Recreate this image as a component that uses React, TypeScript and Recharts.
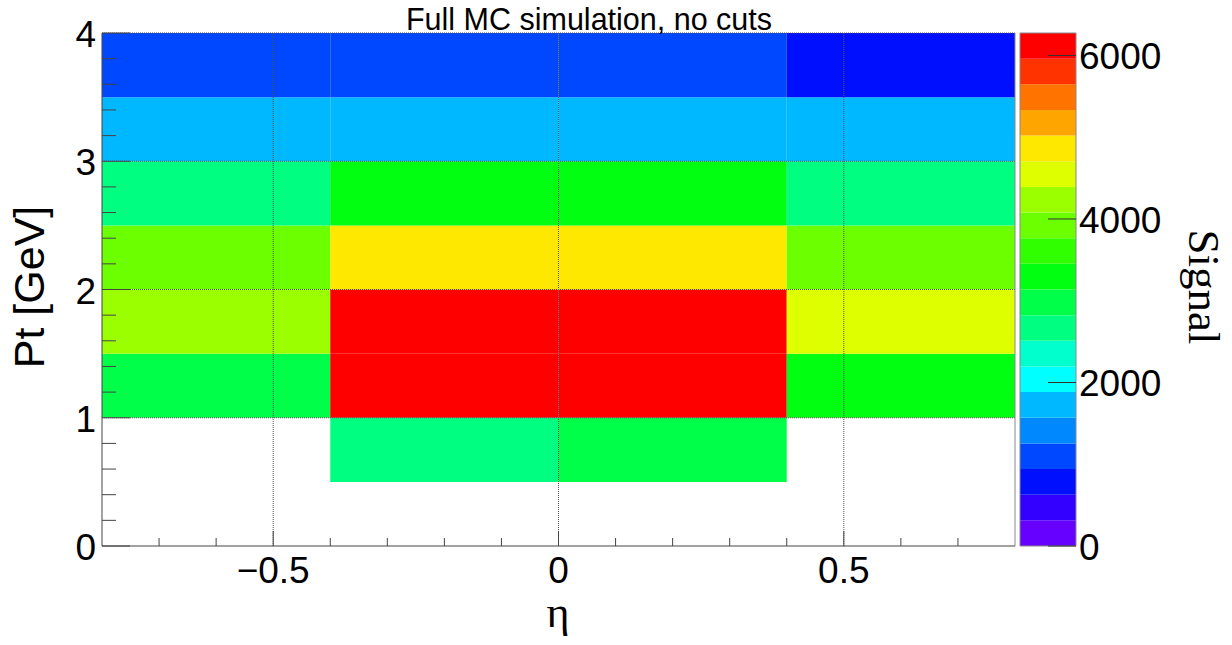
import React from "react";
import { ComposedChart, XAxis, YAxis, ReferenceArea, ReferenceLine, Scatter } from "recharts";

// ---- data ----
const ETA_EDGES = [-0.8, -0.4, 0, 0.4, 0.8];
const PT_EDGES = [0, 0.5, 1, 1.5, 2, 2.5, 3, 3.5, 4];

// Signal per Pt bin (rows), one value per eta bin (left to right)
const PT_0_05 = [0, 0, 0, 0];
const PT_05_10 = [0, 2700, 3000, 0];
const PT_10_15 = [3000, 6275, 6200, 3300];
const PT_15_20 = [4250, 6200, 6200, 4550];
const PT_20_25 = [3900, 4850, 4850, 3900];
const PT_25_30 = [2650, 3300, 3300, 2650];
const PT_30_35 = [1700, 1700, 1700, 1700];
const PT_35_40 = [1100, 1100, 1100, 800];
const SIGNAL_ROWS = [PT_0_05, PT_05_10, PT_10_15, PT_15_20, PT_20_25, PT_25_30, PT_30_35, PT_35_40];

const Z_MAX = 6275;
const N_CONTOURS = 20;
const PALETTE = [
  "#6600ff", "#3300ff", "#0010ff", "#0048ff", "#0088ff",
  "#00b8ff", "#00ffff", "#00ffcc", "#00ff80", "#00ff48",
  "#00ff10", "#30ff00", "#6cff00", "#9cff00", "#ddff00",
  "#ffe800", "#ffa500", "#ff7400", "#ff3300", "#ff0000",
];

const X_TICKS = [-0.7, -0.6, -0.5, -0.4, -0.3, -0.2, -0.1, 0, 0.1, 0.2, 0.3, 0.4, 0.5, 0.6, 0.7];
const X_MAJOR = [-0.5, 0, 0.5];
const X_MAJOR_LABELS = ["\u22120.5", "0", "0.5"];
const Y_TICKS = [0, 0.2, 0.4, 0.6, 0.8, 1, 1.2, 1.4, 1.6, 1.8, 2, 2.2, 2.4, 2.6, 2.8, 3, 3.2, 3.4, 3.6, 3.8, 4];
const Y_MAJOR = [0, 1, 2, 3, 4];
const Y_MAJOR_LABELS = ["0", "1", "2", "3", "4"];
const Z_TICKS = [0, 2000, 4000, 6000];
const Z_LABELS = ["0", "2000", "4000", "6000"];
const GRID_X = [-0.5, 0, 0.5];
const GRID_Y = [1, 2, 3, 4];

const TITLE = "Full MC simulation, no cuts";
const X_TITLE = "\u03b7";
const Y_TITLE = "Pt [GeV]";
const Z_TITLE = "Signal";

// ---- helpers ----
const SANS = "'Liberation Sans', Arial, Helvetica, sans-serif";
const SERIF = "'Liberation Serif', 'Times New Roman', serif";
const bandWidth = Z_MAX / N_CONTOURS;
const colorFor = (v: number) => PALETTE[Math.min(N_CONTOURS - 1, Math.floor(v / bandWidth))];

type Cell = { x1: number; x2: number; y1: number; y2: number; v: number; x: number; y: number };
const cells: Cell[] = [];
SIGNAL_ROWS.forEach((row, j) => {
  row.forEach((v, i) => {
    if (v > 0) {
      const x1 = ETA_EDGES[i], x2 = ETA_EDGES[i + 1], y1 = PT_EDGES[j], y2 = PT_EDGES[j + 1];
      cells.push({ x1, x2, y1, y2, v, x: (x1 + x2) / 2, y: (y1 + y2) / 2 });
    }
  });
});

const bands = PALETTE.map((c, i) => ({ y1: i * bandWidth, y2: (i + 1) * bandWidth, c }));

const majorIndex = (list: number[], v: number) => list.findIndex((m) => Math.abs(m - v) < 1e-6);

const XTick = (props: any) => {
  const { x, y, payload } = props;
  const mi = majorIndex(X_MAJOR, payload.value);
  const len = mi >= 0 ? 15 : 8;
  return (
    <g>
      <line x1={x} x2={x} y1={y} y2={y - len} stroke="#444" strokeWidth={1} />
      {mi >= 0 && (
        <text x={x} y={y + 37} textAnchor="middle" fontSize={37} fontFamily={SANS} fill="#000">
          {X_MAJOR_LABELS[mi]}
        </text>
      )}
    </g>
  );
};

const YTick = (props: any) => {
  const { x, y, payload } = props;
  const mi = majorIndex(Y_MAJOR, payload.value);
  const len = mi >= 0 ? 28 : 14;
  return (
    <g>
      <line x1={x} x2={x + len} y1={y} y2={y} stroke="#444" strokeWidth={1} />
      {mi >= 0 && (
        <text x={x - 6} y={y + 14} textAnchor="end" fontSize={37} fontFamily={SANS} fill="#000">
          {Y_MAJOR_LABELS[mi]}
        </text>
      )}
    </g>
  );
};

const ZTick = (props: any) => {
  const { x, y, payload } = props;
  const mi = majorIndex(Z_TICKS, payload.value);
  return (
    <g>
      <line x1={x - 28} x2={x} y1={y} y2={y} stroke="#333" strokeWidth={1} />
      <text x={x + 3} y={y + 14} textAnchor="start" fontSize={37} fontFamily={SANS} fill="#000">
        {Z_LABELS[mi]}
      </text>
    </g>
  );
};

const Empty = () => <g />;

export default function App() {
  return (
    <div style={{ position: "absolute", left: 0, top: 0, width: 1232, height: 645, background: "#fff" }}>
      <div style={{ position: "absolute", left: 0, top: 0 }}>
        <ComposedChart width={1232} height={645} data={cells} margin={{ top: 33, right: 217, bottom: 39, left: 42 }}>
          <XAxis
            type="number"
            dataKey="x"
            domain={[-0.8, 0.8]}
            ticks={X_TICKS}
            interval={0}
            tick={<XTick />}
            tickLine={false}
            tickSize={0}
            tickMargin={0}
            height={60}
            axisLine={{ stroke: "#444" }}
            allowDataOverflow
          />
          <YAxis
            type="number"
            dataKey="y"
            domain={[0, 4]}
            ticks={Y_TICKS}
            interval={0}
            tick={<YTick />}
            tickLine={false}
            tickSize={0}
            tickMargin={0}
            width={60}
            axisLine={{ stroke: "#444" }}
            allowDataOverflow
          />
          {cells.map((c, k) => (
            <ReferenceArea
              key={"c" + k}
              x1={c.x1}
              x2={c.x2}
              y1={c.y1}
              y2={c.y2}
              fill={colorFor(c.v)}
              fillOpacity={1}
              stroke="none"
            />
          ))}
          {GRID_X.map((g) => (
            <ReferenceLine key={"gx" + g} x={g} stroke="#555" strokeDasharray="1 1" strokeWidth={1} />
          ))}
          {GRID_Y.map((g) => (
            <ReferenceLine key={"gy" + g} y={g} stroke="#555" strokeDasharray="1 1" strokeWidth={1} />
          ))}
          <ReferenceLine x={0.8} stroke="#888" strokeWidth={1} />
          <Scatter dataKey="y" isAnimationActive={false} shape={<Empty />} />
        </ComposedChart>
      </div>
      <div style={{ position: "absolute", left: 0, top: 0 }}>
        <ComposedChart width={1232} height={645} data={[{ x: 0.5, y: 0 }]} margin={{ top: 33, right: 96, bottom: 99, left: 1020 }}>
          <XAxis type="number" dataKey="x" domain={[0, 1]} hide />
          <YAxis
            type="number"
            dataKey="y"
            orientation="right"
            domain={[0, Z_MAX]}
            ticks={Z_TICKS}
            interval={0}
            tick={<ZTick />}
            tickLine={false}
            tickSize={0}
            tickMargin={0}
            width={60}
            axisLine={false}
            allowDataOverflow
          />
          {bands.map((b, k) => (
            <ReferenceArea key={"b" + k} y1={b.y1} y2={b.y2} fill={b.c} fillOpacity={1} stroke="none" />
          ))}
          <ReferenceArea y1={0} y2={Z_MAX} fill="none" fillOpacity={0} stroke="#888" strokeWidth={1} />
          <Scatter dataKey="y" isAnimationActive={false} shape={<Empty />} />
        </ComposedChart>
      </div>
      <svg width={1232} height={645} style={{ position: "absolute", left: 0, top: 0, pointerEvents: "none" }}>
        <text x={589} y={30} textAnchor="middle" fontSize={30.5} fontFamily={SANS} fill="#000">
          {TITLE}
        </text>
        <text x={44} y={287} textAnchor="middle" fontSize={43} fontFamily={SANS} fill="#000" transform="rotate(-90 44 287)">
          {Y_TITLE}
        </text>
        <text x={558} y={627} textAnchor="middle" fontSize={44} fontFamily={SERIF} fill="#000">
          {X_TITLE}
        </text>
        <text x={1189} y={287} textAnchor="middle" fontSize={45} fontFamily={SERIF} fill="#000" transform="rotate(90 1189 287)">
          {Z_TITLE}
        </text>
      </svg>
    </div>
  );
}
